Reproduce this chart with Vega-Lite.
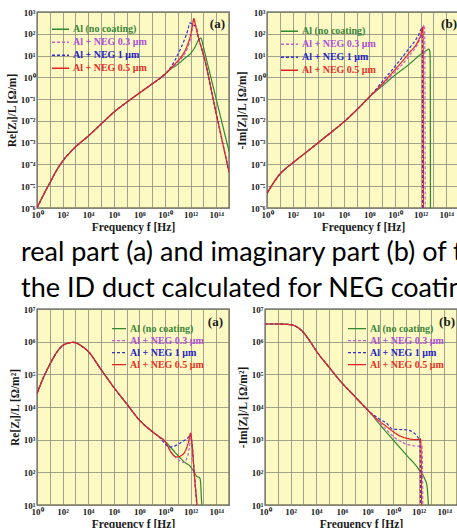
{
  "$schema": "https://vega.github.io/schema/vega-lite/v6.json",
  "background": "white",
  "padding": {"left": 5, "top": 7, "right": 0, "bottom": 0},
  "config": {
    "view": {"fill": "#fcf9c2", "stroke": "#3a3a2a", "strokeWidth": 1.3},
    "axis": {
      "domain": false, "ticks": false, "grid": true, "gridColor": "#8a8a80", "gridWidth": 0.8,
      "labelFont": "Liberation Serif", "labelFontWeight": "bold", "labelFontSize": 9, "labelColor": "#1a1a1a",
      "titleFont": "Liberation Serif", "titleFontWeight": "bold", "titleFontSize": 11.5, "titleColor": "#1a1a1a",
      "labelPadding": 2, "labelOverlap": false, "labelFlush": false
    },
    "axisY": {"titlePadding": 3},
    "axisX": {"titlePadding": 2}
  },
  "datasets": {
    "tl": [
      {"s": "Al (no coating)", "f": 1, "v": 1e-6}, {"s": "Al (no coating)", "f": 3.162, "v": 3.98e-6}, {"s": "Al (no coating)", "f": 10, "v": 1.41e-5}, {"s": "Al (no coating)", "f": 31.62, "v": 5.01e-5}, {"s": "Al (no coating)", "f": 100, "v": 1.41e-4}, {"s": "Al (no coating)", "f": 316.2, "v": 3.16e-4}, {"s": "Al (no coating)", "f": 1000, "v": 6.31e-4}, {"s": "Al (no coating)", "f": 1e4, "v": 2.0e-3}, {"s": "Al (no coating)", "f": 1e5, "v": 7.08e-3}, {"s": "Al (no coating)", "f": 1e6, "v": 0.0251}, {"s": "Al (no coating)", "f": 1e7, "v": 0.0708}, {"s": "Al (no coating)", "f": 1e8, "v": 0.19}, {"s": "Al (no coating)", "f": 1e9, "v": 0.5}, {"s": "Al (no coating)", "f": 1e10, "v": 1.41},
      {"s": "Al (no coating)", "f": 3.162e10, "v": 2.51}, {"s": "Al (no coating)", "f": 1e11, "v": 3.98}, {"s": "Al (no coating)", "f": 3.162e11, "v": 7.08}, {"s": "Al (no coating)", "f": 1e12, "v": 12.6}, {"s": "Al (no coating)", "f": 2.512e12, "v": 28.2}, {"s": "Al (no coating)", "f": 4.467e12, "v": 56.2}, {"s": "Al (no coating)", "f": 6.31e12, "v": 63.1}, {"s": "Al (no coating)", "f": 7.943e12, "v": 44.7}, {"s": "Al (no coating)", "f": 1e13, "v": 25.1}, {"s": "Al (no coating)", "f": 3.162e13, "v": 1.585}, {"s": "Al (no coating)", "f": 1e14, "v": 0.1}, {"s": "Al (no coating)", "f": 3.162e14, "v": 6.31e-3}, {"s": "Al (no coating)", "f": 1e15, "v": 3.98e-4},

      {"s": "Al + NEG 0.3 μm", "f": 1, "v": 1e-6}, {"s": "Al + NEG 0.3 μm", "f": 3.162, "v": 3.98e-6}, {"s": "Al + NEG 0.3 μm", "f": 10, "v": 1.41e-5}, {"s": "Al + NEG 0.3 μm", "f": 31.62, "v": 5.01e-5}, {"s": "Al + NEG 0.3 μm", "f": 100, "v": 1.41e-4}, {"s": "Al + NEG 0.3 μm", "f": 316.2, "v": 3.16e-4}, {"s": "Al + NEG 0.3 μm", "f": 1000, "v": 6.31e-4}, {"s": "Al + NEG 0.3 μm", "f": 1e4, "v": 2.0e-3}, {"s": "Al + NEG 0.3 μm", "f": 1e5, "v": 7.08e-3}, {"s": "Al + NEG 0.3 μm", "f": 1e6, "v": 0.0251}, {"s": "Al + NEG 0.3 μm", "f": 1e7, "v": 0.0708}, {"s": "Al + NEG 0.3 μm", "f": 1e8, "v": 0.19}, {"s": "Al + NEG 0.3 μm", "f": 1e9, "v": 0.5}, {"s": "Al + NEG 0.3 μm", "f": 1e10, "v": 1.41},
      {"s": "Al + NEG 0.3 μm", "f": 3.162e10, "v": 2.63}, {"s": "Al + NEG 0.3 μm", "f": 1e11, "v": 4.79}, {"s": "Al + NEG 0.3 μm", "f": 3.162e11, "v": 11.2}, {"s": "Al + NEG 0.3 μm", "f": 6.31e11, "v": 25.1}, {"s": "Al + NEG 0.3 μm", "f": 1e12, "v": 63.1}, {"s": "Al + NEG 0.3 μm", "f": 1.413e12, "v": 200}, {"s": "Al + NEG 0.3 μm", "f": 1.66e12, "v": 398}, {"s": "Al + NEG 0.3 μm", "f": 2.512e12, "v": 224}, {"s": "Al + NEG 0.3 μm", "f": 3.981e12, "v": 70.8}, {"s": "Al + NEG 0.3 μm", "f": 1e13, "v": 11.2}, {"s": "Al + NEG 0.3 μm", "f": 1e14, "v": 0.0224}, {"s": "Al + NEG 0.3 μm", "f": 1e15, "v": 4.47e-5},

      {"s": "Al + NEG 1 μm", "f": 1, "v": 1e-6}, {"s": "Al + NEG 1 μm", "f": 3.162, "v": 3.98e-6}, {"s": "Al + NEG 1 μm", "f": 10, "v": 1.41e-5}, {"s": "Al + NEG 1 μm", "f": 31.62, "v": 5.01e-5}, {"s": "Al + NEG 1 μm", "f": 100, "v": 1.41e-4}, {"s": "Al + NEG 1 μm", "f": 316.2, "v": 3.16e-4}, {"s": "Al + NEG 1 μm", "f": 1000, "v": 6.31e-4}, {"s": "Al + NEG 1 μm", "f": 1e4, "v": 2.0e-3}, {"s": "Al + NEG 1 μm", "f": 1e5, "v": 7.08e-3}, {"s": "Al + NEG 1 μm", "f": 1e6, "v": 0.0251}, {"s": "Al + NEG 1 μm", "f": 1e7, "v": 0.0708}, {"s": "Al + NEG 1 μm", "f": 1e8, "v": 0.19}, {"s": "Al + NEG 1 μm", "f": 1e9, "v": 0.5}, {"s": "Al + NEG 1 μm", "f": 1e10, "v": 1.41},
      {"s": "Al + NEG 1 μm", "f": 3.162e10, "v": 3.16}, {"s": "Al + NEG 1 μm", "f": 1e11, "v": 11.2}, {"s": "Al + NEG 1 μm", "f": 3.162e11, "v": 50.1}, {"s": "Al + NEG 1 μm", "f": 6.31e11, "v": 158}, {"s": "Al + NEG 1 μm", "f": 8.913e11, "v": 316}, {"s": "Al + NEG 1 μm", "f": 1.259e12, "v": 282}, {"s": "Al + NEG 1 μm", "f": 1.585e12, "v": 251}, {"s": "Al + NEG 1 μm", "f": 2.512e12, "v": 224}, {"s": "Al + NEG 1 μm", "f": 3.981e12, "v": 70.8}, {"s": "Al + NEG 1 μm", "f": 1e13, "v": 11.2}, {"s": "Al + NEG 1 μm", "f": 1e14, "v": 0.0224}, {"s": "Al + NEG 1 μm", "f": 1e15, "v": 4.47e-5},

      {"s": "Al + NEG 0.5 μm", "f": 1, "v": 1e-6}, {"s": "Al + NEG 0.5 μm", "f": 3.162, "v": 3.98e-6}, {"s": "Al + NEG 0.5 μm", "f": 10, "v": 1.41e-5}, {"s": "Al + NEG 0.5 μm", "f": 31.62, "v": 5.01e-5}, {"s": "Al + NEG 0.5 μm", "f": 100, "v": 1.41e-4}, {"s": "Al + NEG 0.5 μm", "f": 316.2, "v": 3.16e-4}, {"s": "Al + NEG 0.5 μm", "f": 1000, "v": 6.31e-4}, {"s": "Al + NEG 0.5 μm", "f": 1e4, "v": 2.0e-3}, {"s": "Al + NEG 0.5 μm", "f": 1e5, "v": 7.08e-3}, {"s": "Al + NEG 0.5 μm", "f": 1e6, "v": 0.0251}, {"s": "Al + NEG 0.5 μm", "f": 1e7, "v": 0.0708}, {"s": "Al + NEG 0.5 μm", "f": 1e8, "v": 0.19}, {"s": "Al + NEG 0.5 μm", "f": 1e9, "v": 0.5}, {"s": "Al + NEG 0.5 μm", "f": 1e10, "v": 1.41},
      {"s": "Al + NEG 0.5 μm", "f": 3.162e10, "v": 2.82}, {"s": "Al + NEG 0.5 μm", "f": 1e11, "v": 5.62}, {"s": "Al + NEG 0.5 μm", "f": 3.162e11, "v": 14.1}, {"s": "Al + NEG 0.5 μm", "f": 6.31e11, "v": 35.5}, {"s": "Al + NEG 0.5 μm", "f": 1e12, "v": 89.1}, {"s": "Al + NEG 0.5 μm", "f": 1.413e12, "v": 251}, {"s": "Al + NEG 0.5 μm", "f": 1.778e12, "v": 501}, {"s": "Al + NEG 0.5 μm", "f": 2.512e12, "v": 224}, {"s": "Al + NEG 0.5 μm", "f": 3.981e12, "v": 70.8}, {"s": "Al + NEG 0.5 μm", "f": 1e13, "v": 11.2}, {"s": "Al + NEG 0.5 μm", "f": 1e14, "v": 0.0224}, {"s": "Al + NEG 0.5 μm", "f": 1e15, "v": 4.47e-5}
    ],
    "tr": [
      {"s": "Al (no coating)", "f": 1, "v": 4.68e-6}, {"s": "Al (no coating)", "f": 3.162, "v": 1.41e-5}, {"s": "Al (no coating)", "f": 10, "v": 3.55e-5}, {"s": "Al (no coating)", "f": 31.62, "v": 6.76e-5}, {"s": "Al (no coating)", "f": 100, "v": 1.17e-4}, {"s": "Al (no coating)", "f": 1000, "v": 3.39e-4}, {"s": "Al (no coating)", "f": 1e4, "v": 1e-3}, {"s": "Al (no coating)", "f": 1e5, "v": 2.95e-3}, {"s": "Al (no coating)", "f": 1e6, "v": 8.91e-3}, {"s": "Al (no coating)", "f": 1e7, "v": 0.0316}, {"s": "Al (no coating)", "f": 1e8, "v": 0.126},
      {"s": "Al (no coating)", "f": 1e9, "v": 0.398}, {"s": "Al (no coating)", "f": 1e10, "v": 1.26}, {"s": "Al (no coating)", "f": 1e11, "v": 3.55}, {"s": "Al (no coating)", "f": 1e12, "v": 11.2}, {"s": "Al (no coating)", "f": 3.162e12, "v": 17.8}, {"s": "Al (no coating)", "f": 4.467e12, "v": 20}, {"s": "Al (no coating)", "f": 5.248e12, "v": 15.8}, {"s": "Al (no coating)", "f": 5.623e12, "v": 5}, {"s": "Al (no coating)", "f": 5.888e12, "v": 1e-6},

      {"s": "Al + NEG 0.3 μm", "f": 1, "v": 4.68e-6}, {"s": "Al + NEG 0.3 μm", "f": 3.162, "v": 1.41e-5}, {"s": "Al + NEG 0.3 μm", "f": 10, "v": 3.55e-5}, {"s": "Al + NEG 0.3 μm", "f": 31.62, "v": 6.76e-5}, {"s": "Al + NEG 0.3 μm", "f": 100, "v": 1.17e-4}, {"s": "Al + NEG 0.3 μm", "f": 1000, "v": 3.39e-4}, {"s": "Al + NEG 0.3 μm", "f": 1e4, "v": 1e-3}, {"s": "Al + NEG 0.3 μm", "f": 1e5, "v": 2.95e-3}, {"s": "Al + NEG 0.3 μm", "f": 1e6, "v": 8.91e-3}, {"s": "Al + NEG 0.3 μm", "f": 1e7, "v": 0.0316}, {"s": "Al + NEG 0.3 μm", "f": 1e8, "v": 0.126},
      {"s": "Al + NEG 0.3 μm", "f": 1e9, "v": 0.447}, {"s": "Al + NEG 0.3 μm", "f": 1e10, "v": 1.78}, {"s": "Al + NEG 0.3 μm", "f": 1e11, "v": 7.94}, {"s": "Al + NEG 0.3 μm", "f": 1e12, "v": 70.8}, {"s": "Al + NEG 0.3 μm", "f": 1.995e12, "v": 251}, {"s": "Al + NEG 0.3 μm", "f": 2.138e12, "v": 31.6}, {"s": "Al + NEG 0.3 μm", "f": 2.291e12, "v": 1e-6},

      {"s": "Al + NEG 1 μm", "f": 1, "v": 4.68e-6}, {"s": "Al + NEG 1 μm", "f": 3.162, "v": 1.41e-5}, {"s": "Al + NEG 1 μm", "f": 10, "v": 3.55e-5}, {"s": "Al + NEG 1 μm", "f": 31.62, "v": 6.76e-5}, {"s": "Al + NEG 1 μm", "f": 100, "v": 1.17e-4}, {"s": "Al + NEG 1 μm", "f": 1000, "v": 3.39e-4}, {"s": "Al + NEG 1 μm", "f": 1e4, "v": 1e-3}, {"s": "Al + NEG 1 μm", "f": 1e5, "v": 2.95e-3}, {"s": "Al + NEG 1 μm", "f": 1e6, "v": 8.91e-3}, {"s": "Al + NEG 1 μm", "f": 1e7, "v": 0.0316}, {"s": "Al + NEG 1 μm", "f": 1e8, "v": 0.126},
      {"s": "Al + NEG 1 μm", "f": 1e9, "v": 0.631}, {"s": "Al + NEG 1 μm", "f": 1e10, "v": 3.16}, {"s": "Al + NEG 1 μm", "f": 1e11, "v": 17.8}, {"s": "Al + NEG 1 μm", "f": 6.31e11, "v": 79.4}, {"s": "Al + NEG 1 μm", "f": 1.259e12, "v": 178}, {"s": "Al + NEG 1 μm", "f": 1.38e12, "v": 31.6}, {"s": "Al + NEG 1 μm", "f": 1.445e12, "v": 1e-6},

      {"s": "Al + NEG 0.5 μm", "f": 1, "v": 4.68e-6}, {"s": "Al + NEG 0.5 μm", "f": 3.162, "v": 1.41e-5}, {"s": "Al + NEG 0.5 μm", "f": 10, "v": 3.55e-5}, {"s": "Al + NEG 0.5 μm", "f": 31.62, "v": 6.76e-5}, {"s": "Al + NEG 0.5 μm", "f": 100, "v": 1.17e-4}, {"s": "Al + NEG 0.5 μm", "f": 1000, "v": 3.39e-4}, {"s": "Al + NEG 0.5 μm", "f": 1e4, "v": 1e-3}, {"s": "Al + NEG 0.5 μm", "f": 1e5, "v": 2.95e-3}, {"s": "Al + NEG 0.5 μm", "f": 1e6, "v": 8.91e-3}, {"s": "Al + NEG 0.5 μm", "f": 1e7, "v": 0.0316}, {"s": "Al + NEG 0.5 μm", "f": 1e8, "v": 0.126},
      {"s": "Al + NEG 0.5 μm", "f": 1e9, "v": 0.5}, {"s": "Al + NEG 0.5 μm", "f": 1e10, "v": 2.24}, {"s": "Al + NEG 0.5 μm", "f": 1e11, "v": 11.2}, {"s": "Al + NEG 0.5 μm", "f": 1e12, "v": 89.1}, {"s": "Al + NEG 0.5 μm", "f": 1.514e12, "v": 200}, {"s": "Al + NEG 0.5 μm", "f": 1.585e12, "v": 31.6}, {"s": "Al + NEG 0.5 μm", "f": 1.66e12, "v": 1e-6}
    ],
    "bl": [
      {"s": "Al (no coating)", "f": 1, "v": 2.57e4}, {"s": "Al (no coating)", "f": 3.162, "v": 7.94e4}, {"s": "Al (no coating)", "f": 10, "v": 2.0e5}, {"s": "Al (no coating)", "f": 31.62, "v": 4.47e5}, {"s": "Al (no coating)", "f": 100, "v": 7.59e5}, {"s": "Al (no coating)", "f": 316.2, "v": 9.12e5}, {"s": "Al (no coating)", "f": 631, "v": 9.55e5}, {"s": "Al (no coating)", "f": 1000, "v": 9.33e5}, {"s": "Al (no coating)", "f": 3162, "v": 7.24e5}, {"s": "Al (no coating)", "f": 1e4, "v": 5.01e5}, {"s": "Al (no coating)", "f": 1e5, "v": 1.41e5}, {"s": "Al (no coating)", "f": 1e6, "v": 3.98e4}, {"s": "Al (no coating)", "f": 1e7, "v": 1.26e4}, {"s": "Al (no coating)", "f": 1e8, "v": 3.98e3}, {"s": "Al (no coating)", "f": 1e9, "v": 1.78e3}, {"s": "Al (no coating)", "f": 3.162e9, "v": 1.26e3},
      {"s": "Al (no coating)", "f": 1e10, "v": 891}, {"s": "Al (no coating)", "f": 3.162e10, "v": 550}, {"s": "Al (no coating)", "f": 1e11, "v": 331}, {"s": "Al (no coating)", "f": 3.162e11, "v": 209}, {"s": "Al (no coating)", "f": 1e12, "v": 148}, {"s": "Al (no coating)", "f": 1.995e12, "v": 98}, {"s": "Al (no coating)", "f": 3.162e12, "v": 74.1}, {"s": "Al (no coating)", "f": 5.012e12, "v": 69.2}, {"s": "Al (no coating)", "f": 6.026e12, "v": 50.1}, {"s": "Al (no coating)", "f": 6.761e12, "v": 20}, {"s": "Al (no coating)", "f": 7.586e12, "v": 10},

      {"s": "Al + NEG 0.3 μm", "f": 1, "v": 2.57e4}, {"s": "Al + NEG 0.3 μm", "f": 3.162, "v": 7.94e4}, {"s": "Al + NEG 0.3 μm", "f": 10, "v": 2.0e5}, {"s": "Al + NEG 0.3 μm", "f": 31.62, "v": 4.47e5}, {"s": "Al + NEG 0.3 μm", "f": 100, "v": 7.59e5}, {"s": "Al + NEG 0.3 μm", "f": 316.2, "v": 9.12e5}, {"s": "Al + NEG 0.3 μm", "f": 631, "v": 9.55e5}, {"s": "Al + NEG 0.3 μm", "f": 1000, "v": 9.33e5}, {"s": "Al + NEG 0.3 μm", "f": 3162, "v": 7.24e5}, {"s": "Al + NEG 0.3 μm", "f": 1e4, "v": 5.01e5}, {"s": "Al + NEG 0.3 μm", "f": 1e5, "v": 1.41e5}, {"s": "Al + NEG 0.3 μm", "f": 1e6, "v": 3.98e4}, {"s": "Al + NEG 0.3 μm", "f": 1e7, "v": 1.26e4}, {"s": "Al + NEG 0.3 μm", "f": 1e8, "v": 3.98e3}, {"s": "Al + NEG 0.3 μm", "f": 1e9, "v": 1.78e3}, {"s": "Al + NEG 0.3 μm", "f": 3.162e9, "v": 1.26e3},
      {"s": "Al + NEG 0.3 μm", "f": 1e10, "v": 891}, {"s": "Al + NEG 0.3 μm", "f": 3.162e10, "v": 417}, {"s": "Al + NEG 0.3 μm", "f": 1e11, "v": 251}, {"s": "Al + NEG 0.3 μm", "f": 2.818e11, "v": 200}, {"s": "Al + NEG 0.3 μm", "f": 5.012e11, "v": 263}, {"s": "Al + NEG 0.3 μm", "f": 7.943e11, "v": 562}, {"s": "Al + NEG 0.3 μm", "f": 1.047e12, "v": 1413}, {"s": "Al + NEG 0.3 μm", "f": 1.318e12, "v": 708}, {"s": "Al + NEG 0.3 μm", "f": 1.995e12, "v": 79.4}, {"s": "Al + NEG 0.3 μm", "f": 3.311e12, "v": 10},

      {"s": "Al + NEG 1 μm", "f": 1, "v": 2.57e4}, {"s": "Al + NEG 1 μm", "f": 3.162, "v": 7.94e4}, {"s": "Al + NEG 1 μm", "f": 10, "v": 2.0e5}, {"s": "Al + NEG 1 μm", "f": 31.62, "v": 4.47e5}, {"s": "Al + NEG 1 μm", "f": 100, "v": 7.59e5}, {"s": "Al + NEG 1 μm", "f": 316.2, "v": 9.12e5}, {"s": "Al + NEG 1 μm", "f": 631, "v": 9.55e5}, {"s": "Al + NEG 1 μm", "f": 1000, "v": 9.33e5}, {"s": "Al + NEG 1 μm", "f": 3162, "v": 7.24e5}, {"s": "Al + NEG 1 μm", "f": 1e4, "v": 5.01e5}, {"s": "Al + NEG 1 μm", "f": 1e5, "v": 1.41e5}, {"s": "Al + NEG 1 μm", "f": 1e6, "v": 3.98e4}, {"s": "Al + NEG 1 μm", "f": 1e7, "v": 1.26e4}, {"s": "Al + NEG 1 μm", "f": 1e8, "v": 3.98e3}, {"s": "Al + NEG 1 μm", "f": 1e9, "v": 1.78e3}, {"s": "Al + NEG 1 μm", "f": 3.162e9, "v": 1.26e3},
      {"s": "Al + NEG 1 μm", "f": 1e10, "v": 759}, {"s": "Al + NEG 1 μm", "f": 1.995e10, "v": 603}, {"s": "Al + NEG 1 μm", "f": 5.012e10, "v": 631}, {"s": "Al + NEG 1 μm", "f": 1.585e11, "v": 794}, {"s": "Al + NEG 1 μm", "f": 3.981e11, "v": 1000}, {"s": "Al + NEG 1 μm", "f": 7.943e11, "v": 1259}, {"s": "Al + NEG 1 μm", "f": 1e12, "v": 1413}, {"s": "Al + NEG 1 μm", "f": 1.259e12, "v": 794}, {"s": "Al + NEG 1 μm", "f": 1.995e12, "v": 79.4}, {"s": "Al + NEG 1 μm", "f": 3.02e12, "v": 10},

      {"s": "Al + NEG 0.5 μm", "f": 1, "v": 2.57e4}, {"s": "Al + NEG 0.5 μm", "f": 3.162, "v": 7.94e4}, {"s": "Al + NEG 0.5 μm", "f": 10, "v": 2.0e5}, {"s": "Al + NEG 0.5 μm", "f": 31.62, "v": 4.47e5}, {"s": "Al + NEG 0.5 μm", "f": 100, "v": 7.59e5}, {"s": "Al + NEG 0.5 μm", "f": 316.2, "v": 9.12e5}, {"s": "Al + NEG 0.5 μm", "f": 631, "v": 9.55e5}, {"s": "Al + NEG 0.5 μm", "f": 1000, "v": 9.33e5}, {"s": "Al + NEG 0.5 μm", "f": 3162, "v": 7.24e5}, {"s": "Al + NEG 0.5 μm", "f": 1e4, "v": 5.01e5}, {"s": "Al + NEG 0.5 μm", "f": 1e5, "v": 1.41e5}, {"s": "Al + NEG 0.5 μm", "f": 1e6, "v": 3.98e4}, {"s": "Al + NEG 0.5 μm", "f": 1e7, "v": 1.26e4}, {"s": "Al + NEG 0.5 μm", "f": 1e8, "v": 3.98e3}, {"s": "Al + NEG 0.5 μm", "f": 1e9, "v": 1.78e3}, {"s": "Al + NEG 0.5 μm", "f": 3.162e9, "v": 1.26e3},
      {"s": "Al + NEG 0.5 μm", "f": 1e10, "v": 891}, {"s": "Al + NEG 0.5 μm", "f": 3.162e10, "v": 398}, {"s": "Al + NEG 0.5 μm", "f": 7.943e10, "v": 295}, {"s": "Al + NEG 0.5 μm", "f": 1.995e11, "v": 331}, {"s": "Al + NEG 0.5 μm", "f": 3.981e11, "v": 457}, {"s": "Al + NEG 0.5 μm", "f": 7.079e11, "v": 891}, {"s": "Al + NEG 0.5 μm", "f": 1e12, "v": 1585}, {"s": "Al + NEG 0.5 μm", "f": 1.259e12, "v": 794}, {"s": "Al + NEG 0.5 μm", "f": 1.995e12, "v": 79.4}, {"s": "Al + NEG 0.5 μm", "f": 3.162e12, "v": 10}
    ],
    "br": [
      {"s": "Al (no coating)", "f": 1, "v": 3.47e6}, {"s": "Al (no coating)", "f": 10, "v": 3.47e6}, {"s": "Al (no coating)", "f": 100, "v": 3.31e6}, {"s": "Al (no coating)", "f": 316.2, "v": 2.82e6}, {"s": "Al (no coating)", "f": 1000, "v": 1.91e6}, {"s": "Al (no coating)", "f": 3162, "v": 1.05e6}, {"s": "Al (no coating)", "f": 1e4, "v": 5.25e5}, {"s": "Al (no coating)", "f": 1e5, "v": 1.66e5}, {"s": "Al (no coating)", "f": 1e6, "v": 5.5e4}, {"s": "Al (no coating)", "f": 1e7, "v": 2.14e4}, {"s": "Al (no coating)", "f": 3.162e7, "v": 1.32e4}, {"s": "Al (no coating)", "f": 1e8, "v": 8.32e3},
      {"s": "Al (no coating)", "f": 1e9, "v": 2.82e3}, {"s": "Al (no coating)", "f": 1e10, "v": 1e3}, {"s": "Al (no coating)", "f": 1e11, "v": 355}, {"s": "Al (no coating)", "f": 1e12, "v": 126}, {"s": "Al (no coating)", "f": 3.162e12, "v": 60.3}, {"s": "Al (no coating)", "f": 4.467e12, "v": 39.8}, {"s": "Al (no coating)", "f": 5.248e12, "v": 20}, {"s": "Al (no coating)", "f": 5.888e12, "v": 10},

      {"s": "Al + NEG 0.3 μm", "f": 1, "v": 3.47e6}, {"s": "Al + NEG 0.3 μm", "f": 10, "v": 3.47e6}, {"s": "Al + NEG 0.3 μm", "f": 100, "v": 3.31e6}, {"s": "Al + NEG 0.3 μm", "f": 316.2, "v": 2.82e6}, {"s": "Al + NEG 0.3 μm", "f": 1000, "v": 1.91e6}, {"s": "Al + NEG 0.3 μm", "f": 3162, "v": 1.05e6}, {"s": "Al + NEG 0.3 μm", "f": 1e4, "v": 5.25e5}, {"s": "Al + NEG 0.3 μm", "f": 1e5, "v": 1.66e5}, {"s": "Al + NEG 0.3 μm", "f": 1e6, "v": 5.5e4}, {"s": "Al + NEG 0.3 μm", "f": 1e7, "v": 2.14e4}, {"s": "Al + NEG 0.3 μm", "f": 3.162e7, "v": 1.32e4}, {"s": "Al + NEG 0.3 μm", "f": 1e8, "v": 8.32e3},
      {"s": "Al + NEG 0.3 μm", "f": 3.162e8, "v": 5.01e3}, {"s": "Al + NEG 0.3 μm", "f": 1e9, "v": 3.16e3}, {"s": "Al + NEG 0.3 μm", "f": 3.162e9, "v": 2.0e3}, {"s": "Al + NEG 0.3 μm", "f": 1e10, "v": 1.26e3}, {"s": "Al + NEG 0.3 μm", "f": 3.162e10, "v": 933}, {"s": "Al + NEG 0.3 μm", "f": 1e11, "v": 741}, {"s": "Al + NEG 0.3 μm", "f": 3.162e11, "v": 661}, {"s": "Al + NEG 0.3 μm", "f": 1e12, "v": 631}, {"s": "Al + NEG 0.3 μm", "f": 1.778e12, "v": 661}, {"s": "Al + NEG 0.3 μm", "f": 1.995e12, "v": 200}, {"s": "Al + NEG 0.3 μm", "f": 2.138e12, "v": 10},

      {"s": "Al + NEG 1 μm", "f": 1, "v": 3.47e6}, {"s": "Al + NEG 1 μm", "f": 10, "v": 3.47e6}, {"s": "Al + NEG 1 μm", "f": 100, "v": 3.31e6}, {"s": "Al + NEG 1 μm", "f": 316.2, "v": 2.82e6}, {"s": "Al + NEG 1 μm", "f": 1000, "v": 1.91e6}, {"s": "Al + NEG 1 μm", "f": 3162, "v": 1.05e6}, {"s": "Al + NEG 1 μm", "f": 1e4, "v": 5.25e5}, {"s": "Al + NEG 1 μm", "f": 1e5, "v": 1.66e5}, {"s": "Al + NEG 1 μm", "f": 1e6, "v": 5.5e4}, {"s": "Al + NEG 1 μm", "f": 1e7, "v": 2.14e4}, {"s": "Al + NEG 1 μm", "f": 3.162e7, "v": 1.32e4}, {"s": "Al + NEG 1 μm", "f": 1e8, "v": 8.32e3},
      {"s": "Al + NEG 1 μm", "f": 3.162e8, "v": 5.62e3}, {"s": "Al + NEG 1 μm", "f": 1e9, "v": 4.17e3}, {"s": "Al + NEG 1 μm", "f": 3.162e9, "v": 3.16e3}, {"s": "Al + NEG 1 μm", "f": 1e10, "v": 2.09e3}, {"s": "Al + NEG 1 μm", "f": 1e11, "v": 2.0e3}, {"s": "Al + NEG 1 μm", "f": 3.981e11, "v": 1.66e3}, {"s": "Al + NEG 1 μm", "f": 1e12, "v": 1.12e3}, {"s": "Al + NEG 1 μm", "f": 1.259e12, "v": 1.05e3}, {"s": "Al + NEG 1 μm", "f": 1.349e12, "v": 316}, {"s": "Al + NEG 1 μm", "f": 1.445e12, "v": 10},

      {"s": "Al + NEG 0.5 μm", "f": 1, "v": 3.47e6}, {"s": "Al + NEG 0.5 μm", "f": 10, "v": 3.47e6}, {"s": "Al + NEG 0.5 μm", "f": 100, "v": 3.31e6}, {"s": "Al + NEG 0.5 μm", "f": 316.2, "v": 2.82e6}, {"s": "Al + NEG 0.5 μm", "f": 1000, "v": 1.91e6}, {"s": "Al + NEG 0.5 μm", "f": 3162, "v": 1.05e6}, {"s": "Al + NEG 0.5 μm", "f": 1e4, "v": 5.25e5}, {"s": "Al + NEG 0.5 μm", "f": 1e5, "v": 1.66e5}, {"s": "Al + NEG 0.5 μm", "f": 1e6, "v": 5.5e4}, {"s": "Al + NEG 0.5 μm", "f": 1e7, "v": 2.14e4}, {"s": "Al + NEG 0.5 μm", "f": 3.162e7, "v": 1.32e4}, {"s": "Al + NEG 0.5 μm", "f": 1e8, "v": 8.32e3},
      {"s": "Al + NEG 0.5 μm", "f": 3.162e8, "v": 5.25e3}, {"s": "Al + NEG 0.5 μm", "f": 1e9, "v": 3.55e3}, {"s": "Al + NEG 0.5 μm", "f": 3.162e9, "v": 2.51e3}, {"s": "Al + NEG 0.5 μm", "f": 1e10, "v": 1.78e3}, {"s": "Al + NEG 0.5 μm", "f": 3.162e10, "v": 1.32e3}, {"s": "Al + NEG 0.5 μm", "f": 1e11, "v": 1.12e3}, {"s": "Al + NEG 0.5 μm", "f": 3.162e11, "v": 1.02e3}, {"s": "Al + NEG 0.5 μm", "f": 1e12, "v": 1e3}, {"s": "Al + NEG 0.5 μm", "f": 1.413e12, "v": 1.05e3}, {"s": "Al + NEG 0.5 μm", "f": 1.585e12, "v": 316}, {"s": "Al + NEG 0.5 μm", "f": 1.698e12, "v": 10}
    ]
  },
  "resolve": {"legend": {"color": "independent", "strokeDash": "independent"}},
  "spacing": 2,
  "vconcat": [
    {
      "hconcat": [
        {
          "width": 192, "height": 196,
          "layer": [
            {
              "data": {"name": "tl"},
              "mark": {"type": "line", "interpolate": "monotone", "strokeWidth": 1.2, "clip": true},
              "encoding": {
                "x": {"field": "f", "type": "quantitative", "scale": {"type": "log", "domain": [1, 1e15]},
                  "axis": {"title": "Frequency f [Hz]", "values": [1, 10, 100, 1000, 1e4, 1e5, 1e6, 1e7, 1e8, 1e9, 1e10, 1e11, 1e12, 1e13, 1e14, 1e15],
                    "labelExpr": "round(log(datum.value)/LN10) % 2 != 0 ? '' : '10' + replace(replace(replace(replace(replace(replace(replace(replace(replace(replace(replace(toString(round(log(datum.value)/LN10)),'-','⁻'),'0','⁰'),'1','¹'),'2','²'),'3','³'),'4','⁴'),'5','⁵'),'6','⁶'),'7','⁷'),'8','⁸'),'9','⁹')"}},
                "y": {"field": "v", "type": "quantitative", "scale": {"type": "log", "domain": [1e-6, 1e3]},
                  "axis": {"title": "Re[Zₗ]/L [Ω/m]", "values": [1e-6, 1e-5, 1e-4, 1e-3, 0.01, 0.1, 1, 10, 100, 1000],
                    "labelExpr": "'10' + replace(replace(replace(replace(replace(replace(replace(replace(replace(replace(replace(toString(round(log(datum.value)/LN10)),'-','⁻'),'0','⁰'),'1','¹'),'2','²'),'3','³'),'4','⁴'),'5','⁵'),'6','⁶'),'7','⁷'),'8','⁸'),'9','⁹')"}},
                "color": {"field": "s", "type": "nominal",
                  "scale": {"domain": ["Al (no coating)", "Al + NEG 0.3 μm", "Al + NEG 1 μm", "Al + NEG 0.5 μm"], "range": ["#2f8a2f", "#c65fd0", "#3030d0", "#e42222"]},
                  "legend": {"orient": "none", "legendX": 14, "legendY": 11, "title": null, "symbolType": "stroke", "symbolSize": 289, "symbolStrokeWidth": 1.3, "labelFont": "Liberation Serif", "labelFontWeight": "bold", "labelFontSize": 10, "clipHeight": 12.5, "rowPadding": 0, "padding": 0, "labelOffset": 3,
                    "encode": {"labels": {"update": {"fill": {"signal": "datum.value === 'Al (no coating)' ? '#3a873a' : datum.value === 'Al + NEG 0.3 μm' ? '#b04fd8' : datum.value === 'Al + NEG 1 μm' ? '#2424c8' : '#e6302a'"}}}}}},
                "strokeDash": {"field": "s", "type": "nominal",
                  "scale": {"domain": ["Al (no coating)", "Al + NEG 0.3 μm", "Al + NEG 1 μm", "Al + NEG 0.5 μm"], "range": [[1, 0], [3, 2], [3, 2], [1, 0]]},
                  "legend": {"orient": "none", "legendX": 14, "legendY": 11, "title": null, "symbolType": "stroke", "symbolSize": 289, "symbolStrokeWidth": 1.3, "labelFont": "Liberation Serif", "labelFontWeight": "bold", "labelFontSize": 10, "clipHeight": 12.5, "rowPadding": 0, "padding": 0, "labelOffset": 3,
                    "encode": {"labels": {"update": {"fill": {"signal": "datum.value === 'Al (no coating)' ? '#3a873a' : datum.value === 'Al + NEG 0.3 μm' ? '#b04fd8' : datum.value === 'Al + NEG 1 μm' ? '#2424c8' : '#e6302a'"}}}}}}
              }
            },
            {
              "data": {"values": [{"label": "(a)"}]},
              "mark": {"type": "text", "align": "right", "baseline": "top", "dx": -4, "dy": 6, "font": "Liberation Serif", "fontSize": 13, "fontWeight": "bold", "color": "#1a1a1a"},
              "encoding": {"x": {"datum": 1e15, "type": "quantitative"}, "y": {"datum": 1000, "type": "quantitative"}, "text": {"field": "label"}}
            }
          ]
        },
        {
          "width": 192, "height": 196,
          "layer": [
            {
              "data": {"name": "tr"},
              "mark": {"type": "line", "interpolate": "monotone", "strokeWidth": 1.2, "clip": true},
              "encoding": {
                "x": {"field": "f", "type": "quantitative", "scale": {"type": "log", "domain": [1, 1e15]},
                  "axis": {"title": "Frequency f [Hz]", "values": [1, 10, 100, 1000, 1e4, 1e5, 1e6, 1e7, 1e8, 1e9, 1e10, 1e11, 1e12, 1e13, 1e14, 1e15],
                    "labelExpr": "round(log(datum.value)/LN10) % 2 != 0 ? '' : '10' + replace(replace(replace(replace(replace(replace(replace(replace(replace(replace(replace(toString(round(log(datum.value)/LN10)),'-','⁻'),'0','⁰'),'1','¹'),'2','²'),'3','³'),'4','⁴'),'5','⁵'),'6','⁶'),'7','⁷'),'8','⁸'),'9','⁹')"}},
                "y": {"field": "v", "type": "quantitative", "scale": {"type": "log", "domain": [1e-6, 1e3]},
                  "axis": {"title": "-Im[Zₗ]/L [Ω/m]", "values": [1e-6, 1e-5, 1e-4, 1e-3, 0.01, 0.1, 1, 10, 100, 1000],
                    "labelExpr": "'10' + replace(replace(replace(replace(replace(replace(replace(replace(replace(replace(replace(toString(round(log(datum.value)/LN10)),'-','⁻'),'0','⁰'),'1','¹'),'2','²'),'3','³'),'4','⁴'),'5','⁵'),'6','⁶'),'7','⁷'),'8','⁸'),'9','⁹')"}},
                "color": {"field": "s", "type": "nominal",
                  "scale": {"domain": ["Al (no coating)", "Al + NEG 0.3 μm", "Al + NEG 1 μm", "Al + NEG 0.5 μm"], "range": ["#2f8a2f", "#c65fd0", "#3030d0", "#e42222"]},
                  "legend": {"orient": "none", "legendX": 13, "legendY": 13, "title": null, "symbolType": "stroke", "symbolSize": 289, "symbolStrokeWidth": 1.3, "labelFont": "Liberation Serif", "labelFontWeight": "bold", "labelFontSize": 10, "clipHeight": 12.5, "rowPadding": 0, "padding": 0, "labelOffset": 3,
                    "encode": {"labels": {"update": {"fill": {"signal": "datum.value === 'Al (no coating)' ? '#3a873a' : datum.value === 'Al + NEG 0.3 μm' ? '#b04fd8' : datum.value === 'Al + NEG 1 μm' ? '#2424c8' : '#e6302a'"}}}}}},
                "strokeDash": {"field": "s", "type": "nominal",
                  "scale": {"domain": ["Al (no coating)", "Al + NEG 0.3 μm", "Al + NEG 1 μm", "Al + NEG 0.5 μm"], "range": [[1, 0], [3, 2], [3, 2], [1, 0]]},
                  "legend": {"orient": "none", "legendX": 13, "legendY": 13, "title": null, "symbolType": "stroke", "symbolSize": 289, "symbolStrokeWidth": 1.3, "labelFont": "Liberation Serif", "labelFontWeight": "bold", "labelFontSize": 10, "clipHeight": 12.5, "rowPadding": 0, "padding": 0, "labelOffset": 3,
                    "encode": {"labels": {"update": {"fill": {"signal": "datum.value === 'Al (no coating)' ? '#3a873a' : datum.value === 'Al + NEG 0.3 μm' ? '#b04fd8' : datum.value === 'Al + NEG 1 μm' ? '#2424c8' : '#e6302a'"}}}}}}
              }
            },
            {
              "data": {"values": [{"label": "(b)"}]},
              "mark": {"type": "text", "align": "right", "baseline": "top", "dx": -2, "dy": 6, "font": "Liberation Serif", "fontSize": 13, "fontWeight": "bold", "color": "#1a1a1a"},
              "encoding": {"x": {"datum": 1e15, "type": "quantitative"}, "y": {"datum": 1000, "type": "quantitative"}, "text": {"field": "label"}}
            }
          ]
        }
      ],
      "spacing": 38, "bounds": "flush",
      "resolve": {"legend": {"color": "independent", "strokeDash": "independent"}}
    },
    {
      "width": 2, "height": 62,
      "view": {"fill": null, "stroke": null},
      "data": {"values": [
        {"line": 1, "caption": "real part (a) and imaginary part (b) of the"},
        {"line": 2, "caption": "the ID duct calculated for NEG coating"}
      ]},
      "mark": {"type": "text", "align": "left", "baseline": "alphabetic", "dx": -17, "font": "Lato", "fontSize": 27, "color": "#000000"},
      "encoding": {
        "y": {"field": "line", "type": "ordinal", "scale": {"type": "point", "range": [25, 61], "padding": 0}, "axis": null},
        "text": {"field": "caption"}
      }
    },
    {
      "hconcat": [
        {
          "width": 192, "height": 196,
          "layer": [
            {
              "data": {"name": "bl"},
              "mark": {"type": "line", "interpolate": "monotone", "strokeWidth": 1.2, "clip": true},
              "encoding": {
                "x": {"field": "f", "type": "quantitative", "scale": {"type": "log", "domain": [1, 1e15]},
                  "axis": {"title": "Frequency f [Hz]", "values": [1, 10, 100, 1000, 1e4, 1e5, 1e6, 1e7, 1e8, 1e9, 1e10, 1e11, 1e12, 1e13, 1e14, 1e15],
                    "labelExpr": "round(log(datum.value)/LN10) % 2 != 0 ? '' : '10' + replace(replace(replace(replace(replace(replace(replace(replace(replace(replace(replace(toString(round(log(datum.value)/LN10)),'-','⁻'),'0','⁰'),'1','¹'),'2','²'),'3','³'),'4','⁴'),'5','⁵'),'6','⁶'),'7','⁷'),'8','⁸'),'9','⁹')"}},
                "y": {"field": "v", "type": "quantitative", "scale": {"type": "log", "domain": [10, 1e7]},
                  "axis": {"title": "Re[Zₗ]/L [Ω/m²]", "values": [10, 100, 1000, 1e4, 1e5, 1e6, 1e7],
                    "labelExpr": "'10' + replace(replace(replace(replace(replace(replace(replace(replace(replace(replace(replace(toString(round(log(datum.value)/LN10)),'-','⁻'),'0','⁰'),'1','¹'),'2','²'),'3','³'),'4','⁴'),'5','⁵'),'6','⁶'),'7','⁷'),'8','⁸'),'9','⁹')"}},
                "color": {"field": "s", "type": "nominal",
                  "scale": {"domain": ["Al (no coating)", "Al + NEG 0.3 μm", "Al + NEG 1 μm", "Al + NEG 0.5 μm"], "range": ["#2f8a2f", "#c65fd0", "#3030d0", "#e42222"]},
                  "legend": {"orient": "none", "legendX": 74, "legendY": 14, "title": null, "symbolType": "stroke", "symbolSize": 196, "symbolStrokeWidth": 1.3, "labelFont": "Liberation Serif", "labelFontWeight": "bold", "labelFontSize": 10, "clipHeight": 11.3, "rowPadding": 0, "padding": 0, "labelOffset": 3,
                    "encode": {"labels": {"update": {"fill": {"signal": "datum.value === 'Al (no coating)' ? '#3a873a' : datum.value === 'Al + NEG 0.3 μm' ? '#b04fd8' : datum.value === 'Al + NEG 1 μm' ? '#2424c8' : '#e6302a'"}}}}}},
                "strokeDash": {"field": "s", "type": "nominal",
                  "scale": {"domain": ["Al (no coating)", "Al + NEG 0.3 μm", "Al + NEG 1 μm", "Al + NEG 0.5 μm"], "range": [[1, 0], [3, 2], [3, 2], [1, 0]]},
                  "legend": {"orient": "none", "legendX": 74, "legendY": 14, "title": null, "symbolType": "stroke", "symbolSize": 196, "symbolStrokeWidth": 1.3, "labelFont": "Liberation Serif", "labelFontWeight": "bold", "labelFontSize": 10, "clipHeight": 11.3, "rowPadding": 0, "padding": 0, "labelOffset": 3,
                    "encode": {"labels": {"update": {"fill": {"signal": "datum.value === 'Al (no coating)' ? '#3a873a' : datum.value === 'Al + NEG 0.3 μm' ? '#b04fd8' : datum.value === 'Al + NEG 1 μm' ? '#2424c8' : '#e6302a'"}}}}}}
              }
            },
            {
              "data": {"values": [{"label": "(a)"}]},
              "mark": {"type": "text", "align": "right", "baseline": "top", "dx": -6, "dy": 7, "font": "Liberation Serif", "fontSize": 13, "fontWeight": "bold", "color": "#1a1a1a"},
              "encoding": {"x": {"datum": 1e15, "type": "quantitative"}, "y": {"datum": 1e7, "type": "quantitative"}, "text": {"field": "label"}}
            }
          ]
        },
        {
          "width": 192, "height": 196,
          "layer": [
            {
              "data": {"name": "br"},
              "mark": {"type": "line", "interpolate": "monotone", "strokeWidth": 1.2, "clip": true},
              "encoding": {
                "x": {"field": "f", "type": "quantitative", "scale": {"type": "log", "domain": [1, 1e15]},
                  "axis": {"title": "Frequency f [Hz]", "values": [1, 10, 100, 1000, 1e4, 1e5, 1e6, 1e7, 1e8, 1e9, 1e10, 1e11, 1e12, 1e13, 1e14, 1e15],
                    "labelExpr": "round(log(datum.value)/LN10) % 2 != 0 ? '' : '10' + replace(replace(replace(replace(replace(replace(replace(replace(replace(replace(replace(toString(round(log(datum.value)/LN10)),'-','⁻'),'0','⁰'),'1','¹'),'2','²'),'3','³'),'4','⁴'),'5','⁵'),'6','⁶'),'7','⁷'),'8','⁸'),'9','⁹')"}},
                "y": {"field": "v", "type": "quantitative", "scale": {"type": "log", "domain": [10, 1e7]},
                  "axis": {"title": "-Im[Zₗ]/L [Ω/m²]", "values": [10, 100, 1000, 1e4, 1e5, 1e6, 1e7],
                    "labelExpr": "'10' + replace(replace(replace(replace(replace(replace(replace(replace(replace(replace(replace(toString(round(log(datum.value)/LN10)),'-','⁻'),'0','⁰'),'1','¹'),'2','²'),'3','³'),'4','⁴'),'5','⁵'),'6','⁶'),'7','⁷'),'8','⁸'),'9','⁹')"}},
                "color": {"field": "s", "type": "nominal",
                  "scale": {"domain": ["Al (no coating)", "Al + NEG 0.3 μm", "Al + NEG 1 μm", "Al + NEG 0.5 μm"], "range": ["#2f8a2f", "#c65fd0", "#3030d0", "#e42222"]},
                  "legend": {"orient": "none", "legendX": 82, "legendY": 14, "title": null, "symbolType": "stroke", "symbolSize": 324, "symbolStrokeWidth": 1.3, "labelFont": "Liberation Serif", "labelFontWeight": "bold", "labelFontSize": 10, "clipHeight": 11.3, "rowPadding": 0, "padding": 0, "labelOffset": 3,
                    "encode": {"labels": {"update": {"fill": {"signal": "datum.value === 'Al (no coating)' ? '#3a873a' : datum.value === 'Al + NEG 0.3 μm' ? '#b04fd8' : datum.value === 'Al + NEG 1 μm' ? '#2424c8' : '#e6302a'"}}}}}},
                "strokeDash": {"field": "s", "type": "nominal",
                  "scale": {"domain": ["Al (no coating)", "Al + NEG 0.3 μm", "Al + NEG 1 μm", "Al + NEG 0.5 μm"], "range": [[1, 0], [3, 2], [3, 2], [1, 0]]},
                  "legend": {"orient": "none", "legendX": 82, "legendY": 14, "title": null, "symbolType": "stroke", "symbolSize": 324, "symbolStrokeWidth": 1.3, "labelFont": "Liberation Serif", "labelFontWeight": "bold", "labelFontSize": 10, "clipHeight": 11.3, "rowPadding": 0, "padding": 0, "labelOffset": 3,
                    "encode": {"labels": {"update": {"fill": {"signal": "datum.value === 'Al (no coating)' ? '#3a873a' : datum.value === 'Al + NEG 0.3 μm' ? '#b04fd8' : datum.value === 'Al + NEG 1 μm' ? '#2424c8' : '#e6302a'"}}}}}}
              }
            },
            {
              "data": {"values": [{"label": "(b)"}]},
              "mark": {"type": "text", "align": "right", "baseline": "top", "dx": -2, "dy": 7, "font": "Liberation Serif", "fontSize": 13, "fontWeight": "bold", "color": "#1a1a1a"},
              "encoding": {"x": {"datum": 1e15, "type": "quantitative"}, "y": {"datum": 1e7, "type": "quantitative"}, "text": {"field": "label"}}
            }
          ]
        }
      ],
      "spacing": 36, "bounds": "flush",
      "resolve": {"legend": {"color": "independent", "strokeDash": "independent"}}
    }
  ]
}
